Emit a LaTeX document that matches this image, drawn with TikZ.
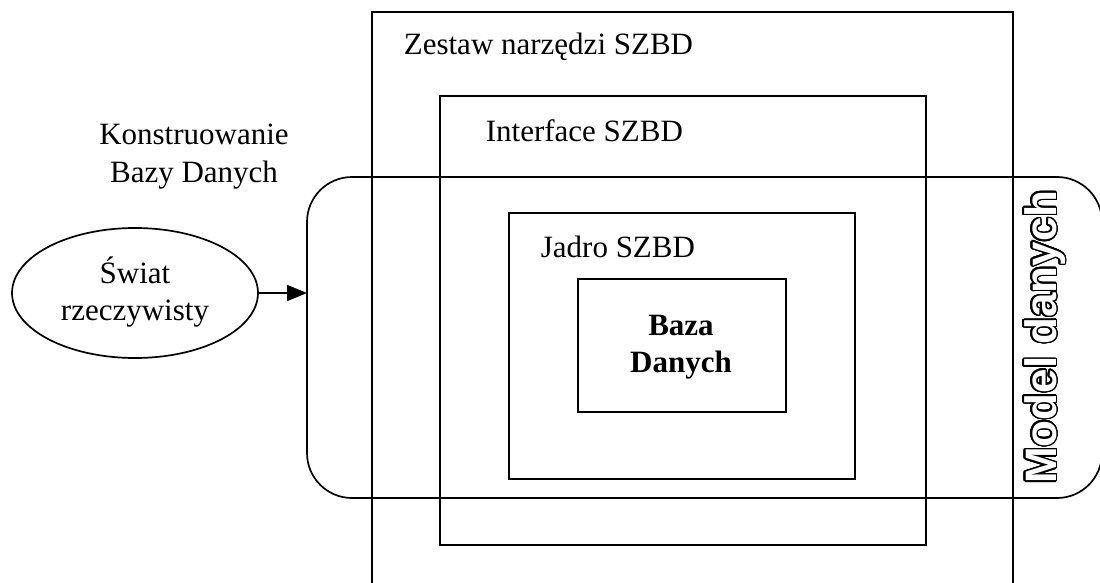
\documentclass[tikz,border=0pt]{standalone}
\usepackage{fontspec}
\setmainfont{Liberation Serif}
\newfontfamily\modelfont{Liberation Sans}
\usepackage{contour}
\contourlength{1.4pt}
\contournumber{32}
\usetikzlibrary{arrows.meta,shapes.geometric}
\begin{document}
\begin{tikzpicture}[x=1pt,y=-1pt,line width=1.7pt,
  box/.style={draw,anchor=north west,inner sep=0pt,outer sep=0pt},
  lbl/.style={font=\fontsize{31}{37}\selectfont,inner sep=0pt,anchor=base west},
  ctr/.style={font=\fontsize{31}{37}\selectfont,inner sep=0pt,align=center,anchor=base}]
\useasboundingbox (0,0) rectangle (1100,583);
\clip (0,0) rectangle (1100,583);
% nested boxes
\node[box,minimum width=641,minimum height=640] (zestaw) at (372,12) {};
\node[box,minimum width=486,minimum height=449] (interface) at (440,96) {};
\node[box,minimum width=346,minimum height=266] (jadro) at (509,213) {};
\node[box,minimum width=208,minimum height=133] (baza) at (578,279) {};
% data model rounded box
\node[box,rounded corners=45,minimum width=795,minimum height=321] (model) at (307,177) {};
% labels
\node[lbl] (tzestaw) at (403,55) {Zestaw narzędzi SZBD};
\node[lbl] (tinterface) at (485,142) {Interface SZBD};
\node[lbl] (tjadro) at (540,257) {Jadro SZBD};
\node[ctr] (tkonstr) at (194,182) {Konstruowanie\\Bazy Danych};
\node[ctr,font=\fontsize{31}{37}\selectfont\bfseries] (tbaza) at (681,372) {Baza\\Danych};
% real world ellipse
\node[draw,ellipse,minimum width=246,minimum height=130,inner sep=0pt] (swiat) at (135,293) {};
\node[ctr] (tswiat) at (135,320) {Świat\\rzeczywisty};
\draw[-{Triangle[length=20pt,width=16pt]}] (swiat.east) -- (swiat.east -| model.west);
% vertical outlined label
\node[rotate=90,anchor=base,inner sep=0pt] (tmodel) at (1056,337)
  {\modelfont\bfseries\fontsize{44}{44}\selectfont\color{white}\contour{black}{Model danych}};
\end{tikzpicture}
\end{document}
